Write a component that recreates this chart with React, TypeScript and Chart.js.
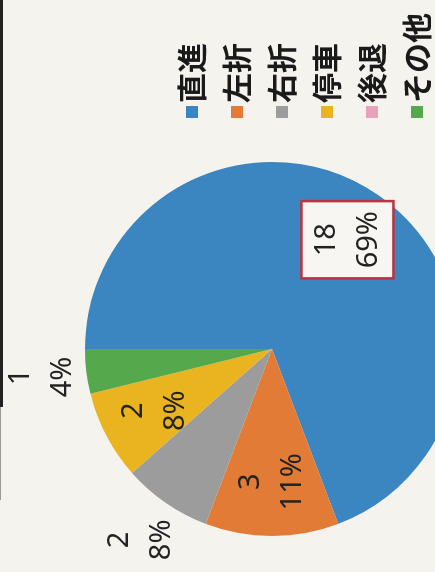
import React, { useEffect, useRef } from 'react';
import { Chart, registerables } from 'chart.js';

Chart.register(...registerables);

// ---- data ----
const categories = ['直進', '左折', '右折', '停車', '後退', 'その他'];
const counts = [18, 3, 2, 2, 0, 1];
const sliceColors = ['#3b86c1', '#e27b35', '#9c9c9c', '#e9b420', '#e8a0bd', '#55a84c'];
// label placement per slice (Excel "best fit" result as seen in the picture)
const labelOutside = [false, false, true, false, false, true];
const labelBoxed = [true, false, false, false, false, false];

function percentLabels(values: number[]): string[] {
  const total = values.reduce((a, b) => a + b, 0);
  const raw = values.map((v) => (v * 100) / total);
  const out = raw.map((r) => Math.floor(r));
  const rest = 100 - out.reduce((a, b) => a + b, 0);
  const order = raw
    .map((r, i) => ({ i, f: r - Math.floor(r) }))
    .sort((a, b) => b.f - a.f);
  for (let k = 0; k < rest; k++) out[order[k].i] += 1;
  return out.map((p) => p + '%');
}

function markerCanvas(color: string): HTMLCanvasElement {
  const c = document.createElement('canvas');
  c.width = 25;
  c.height = 12;
  const g = c.getContext('2d')!;
  g.fillStyle = color;
  g.fillRect(13, 0, 12, 12);
  return c;
}

const sliceLabels = {
  id: 'sliceLabels',
  afterDatasetsDraw(chart: any) {
    const ctx = chart.ctx as CanvasRenderingContext2D;
    const meta = chart.getDatasetMeta(0);
    const pcts = percentLabels(counts);
    ctx.save();
    ctx.font = '29px "Noto Sans"';
    ctx.textAlign = 'center';
    ctx.textBaseline = 'middle';
    meta.data.forEach((arc: any, i: number) => {
      if (!counts[i]) return;
      const { x, y, startAngle, endAngle, outerRadius } = arc.getProps(
        ['x', 'y', 'startAngle', 'endAngle', 'outerRadius'],
        true
      );
      const mid = (startAngle + endAngle) / 2;
      const r = outerRadius * (labelOutside[i] ? 1.24 : 0.71);
      const cx = x + Math.cos(mid) * r;
      const cy = y + Math.sin(mid) * r;
      const lines = [String(counts[i]), pcts[i]];
      const gap = 42;
      if (labelBoxed[i]) {
        const w = Math.max(...lines.map((l) => ctx.measureText(l).width)) + 20;
        const h = gap + 50;
        ctx.fillStyle = '#f7f6f2';
        ctx.fillRect(cx - w / 2, cy - h / 2, w, h);
        ctx.strokeStyle = '#b8343f';
        ctx.lineWidth = 2.5;
        ctx.strokeRect(cx - w / 2, cy - h / 2, w, h);
      }
      ctx.fillStyle = '#232323';
      lines.forEach((l, k) => ctx.fillText(l, cx, cy + (k - 0.5) * gap));
    });
    ctx.restore();
  },
};

export default function App() {
  const ref = useRef<HTMLCanvasElement>(null);

  useEffect(() => {
    document.body.style.margin = '0';
    const markers = sliceColors.map(markerCanvas);
    const baseGen = (Chart as any).overrides.doughnut.plugins.legend.labels.generateLabels;
    const chart = new Chart(ref.current!, {
      type: 'pie',
      data: {
        labels: categories,
        datasets: [
          {
            data: counts,
            backgroundColor: sliceColors,
            borderWidth: 0,
          },
        ],
      },
      options: {
        responsive: false,
        animation: false,
        events: [],
        layout: { padding: { left: 48, right: 3, top: 85, bottom: 85 } },
        plugins: {
          tooltip: { enabled: false },
          legend: {
            position: 'right',
            align: 'start',
            title: {
              display: true,
              text: ' ',
              font: { size: 10 },
              padding: { top: 65, bottom: 0 },
            },
            labels: {
              usePointStyle: true,
              boxWidth: 1,
              boxHeight: 12,
              padding: 15,
              color: '#1a1a1a',
              font: { family: '"Noto Sans CJK JP"', size: 30, weight: 'bold' as any },
              generateLabels(c: any) {
                const items = baseGen(c);
                return items.map((it: any, i: number) => ({ ...it, pointStyle: markers[i] }));
              },
            },
          },
        },
      },
      plugins: [sliceLabels],
    } as any);
    return () => chart.destroy();
  }, []);

  return (
    <div
      style={{
        position: 'fixed',
        left: 0,
        top: 0,
        width: 435,
        height: 572,
        overflow: 'hidden',
        background: '#f4f3ee',
      }}
    >
      <div
        style={{
          position: 'absolute',
          left: 0,
          top: 0,
          width: 572,
          height: 435,
          overflow: 'hidden',
          transformOrigin: '0 0',
          transform: 'translate(0px, 572px) rotate(-90deg)',
        }}
      >
        <canvas
          ref={ref}
          width={612}
          height={544}
          style={{ position: 'absolute', left: -40, top: 0, width: 612, height: 544 }}
        />
      </div>
      <div style={{ position: 'absolute', left: 0, top: 0, width: 3, height: 407, background: '#222' }} />
      <div style={{ position: 'absolute', left: 0, top: 407, width: 1, height: 93, background: '#9a9a9a' }} />
    </div>
  );
}
